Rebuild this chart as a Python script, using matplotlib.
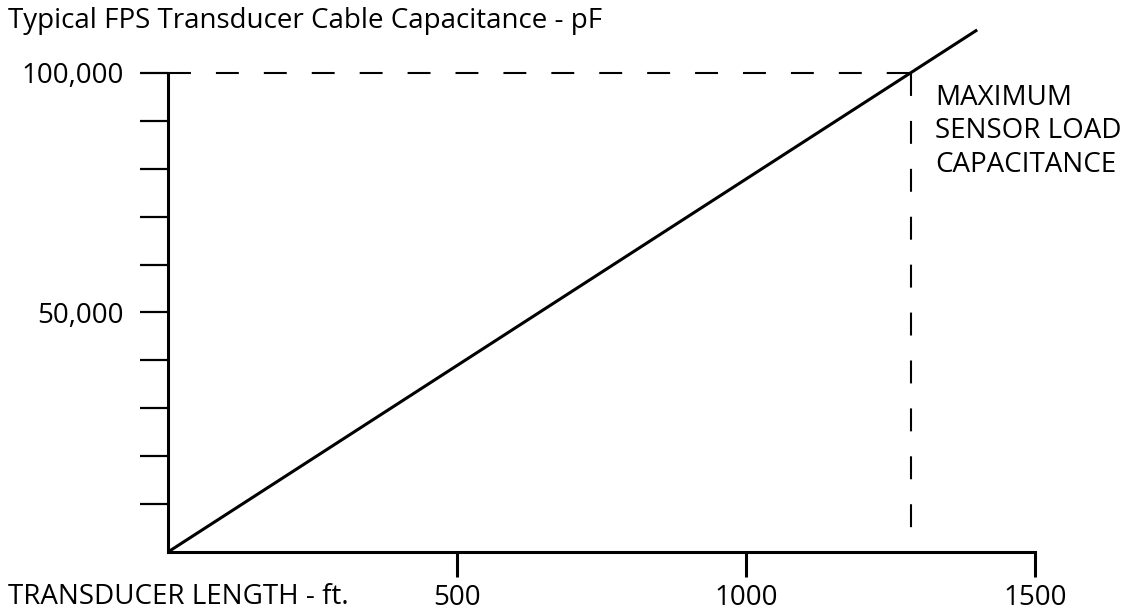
import matplotlib
matplotlib.use("Agg")
import matplotlib.pyplot as plt

# cable capacitance vs transducer length
length_ft = [0, 1400]
capacitance_pf = [0, 109000]

max_length = 1285
max_capacitance = 100000
dash_end = 5000

y_ticks = [10000, 20000, 30000, 40000, 50000, 60000, 70000, 80000, 90000, 100000]
y_labels = ["", "", "", "", "50,000", "", "", "", "", "100,000"]
x_ticks = [500, 1000, 1500]
x_labels = ["500", "1000", "1500"]

plt.rcParams['font.family'] = ['Open Sans', 'DejaVu Sans']

W, H = 1139, 616
fig = plt.figure(figsize=(W / 100, H / 100), dpi=100)
# axes placed in pixels: x 0..1500 -> 168..1035, y 0 -> 552
left, right, bottom, top = 168, 1035, 552, 20
ax = fig.add_axes([left / W, (H - bottom) / H, (right - left) / W, (bottom - top) / H])
ax.set_xlim(0, 1500)
ax.set_ylim(0, (bottom - top) / 479 * 100000)

ax.plot(length_ft, capacitance_pf, color='black', lw=2.2, solid_capstyle='butt', clip_on=False)
ax.plot([0, max_length], [max_capacitance, max_capacitance], color='black', lw=1.5,
        dashes=(11, 12), clip_on=False)
ax.plot([max_length, max_length], [max_capacitance, dash_end], color='black', lw=1.5,
        dashes=(11, 12), clip_on=False)

for s in ['top', 'right']:
    ax.spines[s].set_visible(False)
ax.spines['left'].set_bounds(0, max_capacitance)
ax.spines['bottom'].set_bounds(0, 1500)
for s in ['left', 'bottom']:
    ax.spines[s].set_linewidth(2.2)

ax.set_yticks(y_ticks)
ax.set_yticklabels(y_labels)
ax.set_xticks(x_ticks)
ax.set_xticklabels(x_labels)
ax.tick_params(axis='y', length=20, width=1.6, pad=12, labelsize=20)
ax.tick_params(axis='x', length=18, width=2.2, pad=5, labelsize=20)

fig.text(8 / W, 1 - 21 / H, "Typical FPS Transducer Cable Capacitance - pF",
         fontsize=20, ha='left', va='center')
fig.text(8 / W, 1 - 597 / H, "TRANSDUCER LENGTH - ft.",
         fontsize=20, ha='left', va='center')
fig.text(935 / W, 1 - 84 / H, "MAXIMUM\nSENSOR LOAD\nCAPACITANCE",
         fontsize=20, ha='left', va='top', linespacing=1.25)

fig.savefig("out.png", dpi=100)
